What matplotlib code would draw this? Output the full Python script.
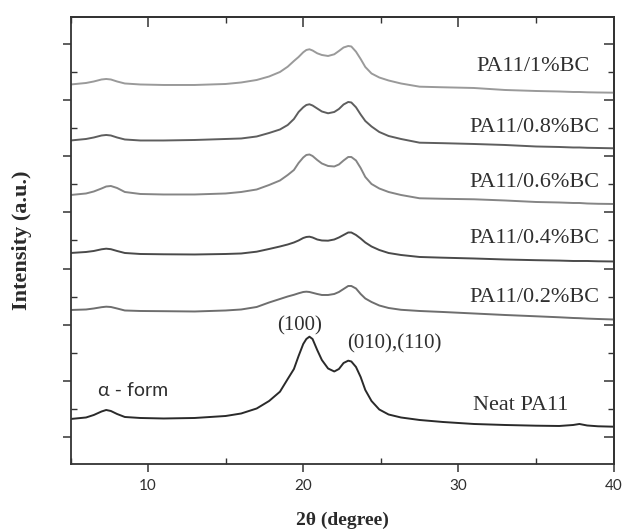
import numpy as np
import matplotlib
matplotlib.use("Agg")
import matplotlib.pyplot as plt
from matplotlib.ticker import MultipleLocator

# XRD patterns of PA11 / bacterial cellulose composites (stacked, offset in a.u.)
two_theta = [5, 6, 6.5, 7.0, 7.3, 7.6, 8.0, 8.5, 9.5, 11,
             13, 15, 16, 17, 17.8, 18.5, 19.0, 19.4, 19.7, 20.0,
             20.2, 20.4, 20.6, 20.9, 21.2, 21.6, 22.0, 22.3, 22.6, 22.9,
             23.1, 23.4, 23.7, 24.0, 24.4, 24.9, 25.5, 26.3, 27.5, 29,
             31, 33, 35, 36.5, 37.4, 37.8, 38.3, 39, 40]

bc_1_0 = [352.5, 354, 355.5, 357.5, 358, 357.5, 355.5, 353.5, 352.5, 352,
          352, 353, 354.5, 357, 360.5, 365, 370.3, 376, 380, 384.7,
          387, 387.7, 386.5, 383.7, 382, 381, 382.7, 386, 389.5, 391,
          390.5, 385.3, 378, 370, 363.5, 359.5, 356.5, 353.5, 350.3, 349.7,
          349, 347, 346, 345.5, 345, 345, 344.7, 344.5, 344.3]
bc_0_8 = [296.5, 298, 299.5, 301.5, 302, 301.5, 299.5, 297.5, 296.5, 296.5,
          297, 298, 298.5, 300.5, 304, 307.5, 312, 318, 325, 329.7,
          332, 332.7, 331.5, 328.5, 325.5, 323.7, 325, 328, 332.5, 335,
          334.5, 329.7, 322.5, 316, 310.5, 305, 301, 298, 294.3, 293.8,
          293, 292, 290.5, 290, 289.5, 289.5, 289.2, 289, 288.7]
bc_0_6 = [242, 243.5, 245.5, 248.5, 250.5, 251, 249, 245, 243, 242.5,
          242.5, 243.5, 245, 247.5, 252, 256.5, 262, 267, 274, 279.5,
          282, 282.5, 281, 277, 273.5, 271, 270.5, 272.5, 276.5, 280,
          280, 276.5, 269, 260, 253, 248.5, 245, 242, 238.7, 238.2,
          237.7, 236.5, 235, 234.5, 234, 234, 233.5, 233.2, 233]
bc_0_4 = [184, 185, 186, 187.7, 188.3, 187.8, 186, 184, 183, 182.7,
          182.5, 183, 183.5, 185.3, 188, 190.5, 192.5, 194.5, 196.5, 199,
          200, 200.3, 199.5, 197.5, 196.5, 196.3, 197.5, 199.5, 202, 204.5,
          204.5, 202, 198.5, 194.5, 190.5, 187, 184, 182, 180, 179.3,
          178.5, 177.5, 176.8, 176.4, 176, 176, 176, 175.7, 175.5]
bc_0_2 = [127, 127.5, 128.5, 129.8, 130.3, 130, 128.5, 126.5, 126, 125.8,
          125.5, 126.5, 127.5, 130, 134.5, 138, 140.5, 142.2, 143.7, 145,
          145.3, 145, 144.2, 143, 142, 142, 143, 145, 148, 151,
          151, 148.5, 143, 138.5, 135, 131.5, 129, 127.2, 126, 125,
          123.5, 122, 120.7, 119.7, 119, 118.8, 118.4, 118, 117.5]
neat = [18, 19.5, 22, 25.5, 27, 26, 23, 20, 19, 18.5,
        19, 21, 23.5, 28.5, 36, 45.3, 58, 68, 81, 93,
        98, 100.3, 98, 87, 77, 68.5, 65.5, 68, 74, 76.3,
        75.5, 70, 60, 47, 36, 27.5, 22.5, 19.5, 17, 15,
        13, 12, 11.3, 11, 12, 13, 11.5, 10.7, 10.3]

series = [bc_1_0, bc_0_8, bc_0_6, bc_0_4, bc_0_2, neat]
labels = ["PA11/1%BC", "PA11/0.8%BC", "PA11/0.6%BC", "PA11/0.4%BC",
          "PA11/0.2%BC", "Neat PA11"]
label_x = [34.8, 34.9, 34.9, 34.9, 34.9, 34.0]
label_y = [370, 309.5, 254.5, 198, 139.5, 31]
colors = ["#9a9a9a", "#5e5e5e", "#858585", "#4a4a4a", "#6e6e6e", "#2a2a2a"]

serif = ["Liberation Serif", "DejaVu Serif"]
sans = ["Lato", "DejaVu Sans"]
step = 56.14  # spacing of the intensity ticks

fig = plt.figure(figsize=(6.23, 5.29), dpi=100)
ax = fig.add_axes([0.1132, 0.1229, 0.8716, 0.845])

for ys, c in zip(series, colors):
    ax.plot(two_theta, ys, color=c, linewidth=1.4)

for lab, lx, ly in zip(labels, label_x, label_y):
    ax.text(lx, ly, lab, fontsize=16, family=serif, color="#2f2f2f",
            ha="center", va="center")

ax.text(19.75, 111, "(100)", fontsize=15, family=serif, color="#2f2f2f",
        ha="center", va="center")
ax.text(25.9, 93.5, "(010),(110)", fontsize=15, family=serif, color="#2f2f2f",
        ha="center", va="center")
ax.text(9.06, 46.5, "\u03b1 - form", fontsize=14, family=sans,
        color="#2f2f2f", ha="center", va="center")

ax.set_xlim(5, 40)
ax.set_ylim(-27, 420)

ax.xaxis.set_major_locator(MultipleLocator(10))
ax.xaxis.set_minor_locator(MultipleLocator(5))
ax.yaxis.set_major_locator(MultipleLocator(step))
ax.yaxis.set_minor_locator(MultipleLocator(step / 2))
ax.set_yticklabels([])

ax.tick_params(axis="both", which="major", direction="out", length=6, width=1.1,
               colors="#333333")
ax.tick_params(axis="both", which="minor", direction="in", length=4, width=1.0,
               colors="#333333")
ax.tick_params(axis="x", which="major", labelsize=11, pad=5)
for lbl in ax.get_xticklabels():
    lbl.set_family(sans)
    lbl.set_color("#2f2f2f")

# top and right frames carry inward ticks only
top = ax.secondary_xaxis("top")
top.xaxis.set_major_locator(MultipleLocator(10))
top.xaxis.set_minor_locator(MultipleLocator(5))
top.tick_params(which="major", direction="in", length=7, width=1.1, colors="#333333",
                labeltop=False)
top.tick_params(which="minor", direction="in", length=4, width=1.0, colors="#333333")

right = ax.secondary_yaxis("right")
right.yaxis.set_major_locator(MultipleLocator(step))
right.yaxis.set_minor_locator(MultipleLocator(step / 2))
right.tick_params(which="major", direction="in", length=7, width=1.1, colors="#333333",
                  labelright=False)
right.tick_params(which="minor", direction="in", length=4, width=1.0, colors="#333333")

for sp in list(ax.spines.values()) + [top.spines["top"], right.spines["right"]]:
    sp.set_linewidth(1.3)
    sp.set_color("#333333")

ax.set_xlabel("2\u03b8 (degree)", fontsize=14, fontweight="bold", family=serif,
              color="#2a2a2a", labelpad=13)
ax.set_ylabel("Intensity (a.u.)", fontsize=16, fontweight="bold", family=serif,
              color="#2a2a2a", labelpad=18)

fig.savefig("out.png", dpi=100)
